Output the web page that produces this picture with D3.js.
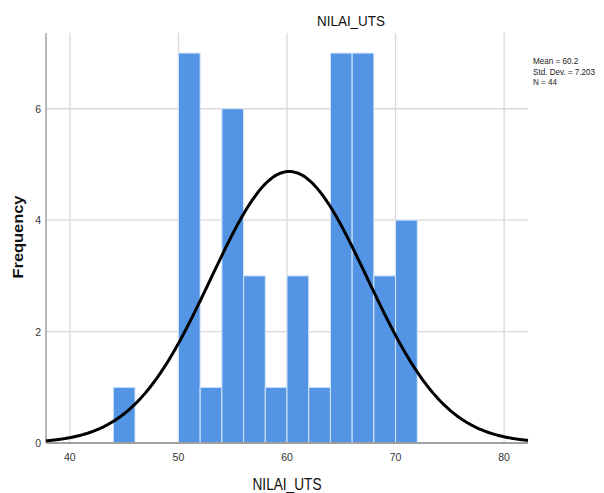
<!DOCTYPE html>
<html><head><meta charset="utf-8">
<script src="https://cdn.jsdelivr.net/npm/d3@7"></script>
<style>body{margin:0;background:#fff}svg{display:block}</style>
</head><body>
<script>
const binStarts = [44, 50, 52, 54, 56, 58, 60, 62, 64, 66, 68, 70];
const counts    = [1, 7, 1, 6, 3, 1, 3, 1, 7, 7, 3, 4];
const binWidth = 2;
const xTicks = [40, 50, 60, 70, 80];
const yTicks = [0, 2, 4, 6];
const stats = {mean: 60.2, sd: 7.203, n: 44};
const legendLines = ["Mean = 60.2", "Std. Dev. = 7.203", "N = 44"];

(function () {
const W = 604, H = 493;
const svg = d3.select("body").append("svg").attr("width", W).attr("height", H);
const pL = 46, pR = 528, pT = 33, pB = 443;
const x = d3.scaleLinear().domain([37.8, 82.2]).range([pL, pR]);
const y = d3.scaleLinear().domain([0, 7.36]).range([pB, pT]);

const font = "Liberation Sans, Arial, sans-serif";
// grid
svg.append("g").selectAll("line").data(xTicks).join("line")
  .attr("x1", d => x(d)).attr("x2", d => x(d)).attr("y1", pT).attr("y2", pB)
  .attr("stroke", "#d9d9d9").attr("stroke-width", 1.3);
svg.append("g").selectAll("line").data(yTicks.filter(d => d > 0)).join("line")
  .attr("x1", pL).attr("x2", pR).attr("y1", d => y(d)).attr("y2", d => y(d))
  .attr("stroke", "#d9d9d9").attr("stroke-width", 1.3);

// bars
svg.append("g").selectAll("rect").data(binStarts).join("rect")
  .attr("x", (d) => x(d))
  .attr("width", x(binWidth) - x(0))
  .attr("y", (d, i) => y(counts[i]))
  .attr("height", (d, i) => y(0) - y(counts[i]))
  .attr("fill", "#5494e4")
  .attr("stroke", "#d6e6fa").attr("stroke-width", 1);

// axes lines
svg.append("line").attr("x1", pL).attr("x2", pL).attr("y1", pT).attr("y2", pB)
  .attr("stroke", "#a0a0a0").attr("stroke-width", 1.5);
svg.append("line").attr("x1", pL).attr("x2", pR).attr("y1", pB).attr("y2", pB)
  .attr("stroke", "#a0a0a0").attr("stroke-width", 2);

// normal curve
const scaleK = stats.n * binWidth / (stats.sd * Math.sqrt(2 * Math.PI));
const pts = d3.range(37.8, 82.21, 0.1).map(v => [v, scaleK * Math.exp(-0.5 * Math.pow((v - stats.mean) / stats.sd, 2))]);
svg.append("path").datum(pts)
  .attr("d", d3.line().x(d => x(d[0])).y(d => y(d[1])).curve(d3.curveBasis))
  .attr("fill", "none").attr("stroke", "#000").attr("stroke-width", 3);

// tick labels
svg.append("g").selectAll("text").data(xTicks).join("text")
  .attr("x", d => x(d)).attr("y", 461).attr("text-anchor", "middle")
  .attr("font-family", font).attr("font-size", 10.5).attr("fill", "#333")
  .text(d => d);
svg.append("g").selectAll("text").data(yTicks).join("text")
  .attr("x", 41).attr("y", d => y(d) + 4).attr("text-anchor", "end")
  .attr("font-family", font).attr("font-size", 10.5).attr("fill", "#333")
  .text(d => d);

// titles
svg.append("text").attr("x", 351).attr("y", 26).attr("text-anchor", "middle")
  .attr("font-family", font).attr("font-size", 14).attr("fill", "#111")
  .attr("textLength", 68).attr("lengthAdjust", "spacingAndGlyphs").text("NILAI_UTS");
svg.append("text").attr("x", 287).attr("y", 490).attr("text-anchor", "middle")
  .attr("font-family", font).attr("font-size", 16.5).attr("fill", "#111")
  .attr("textLength", 69).attr("lengthAdjust", "spacingAndGlyphs").text("NILAI_UTS");
svg.append("text").attr("transform", "translate(23,237) rotate(-90)").attr("text-anchor", "middle")
  .attr("font-family", font).attr("font-size", 14.5).attr("font-weight", "bold").attr("fill", "#111")
  .attr("textLength", 83).attr("lengthAdjust", "spacingAndGlyphs").text("Frequency");

// legend (condensed via horizontal scale)
svg.append("g").attr("transform", "translate(533,0) scale(0.9,1)")
  .selectAll("text").data(legendLines).join("text")
  .attr("x", 0).attr("y", (d, i) => 64.5 + i * 10.5)
  .attr("font-family", font).attr("font-size", 9).attr("fill", "#222")
  .text(d => d);
})();
</script>
</body></html>
